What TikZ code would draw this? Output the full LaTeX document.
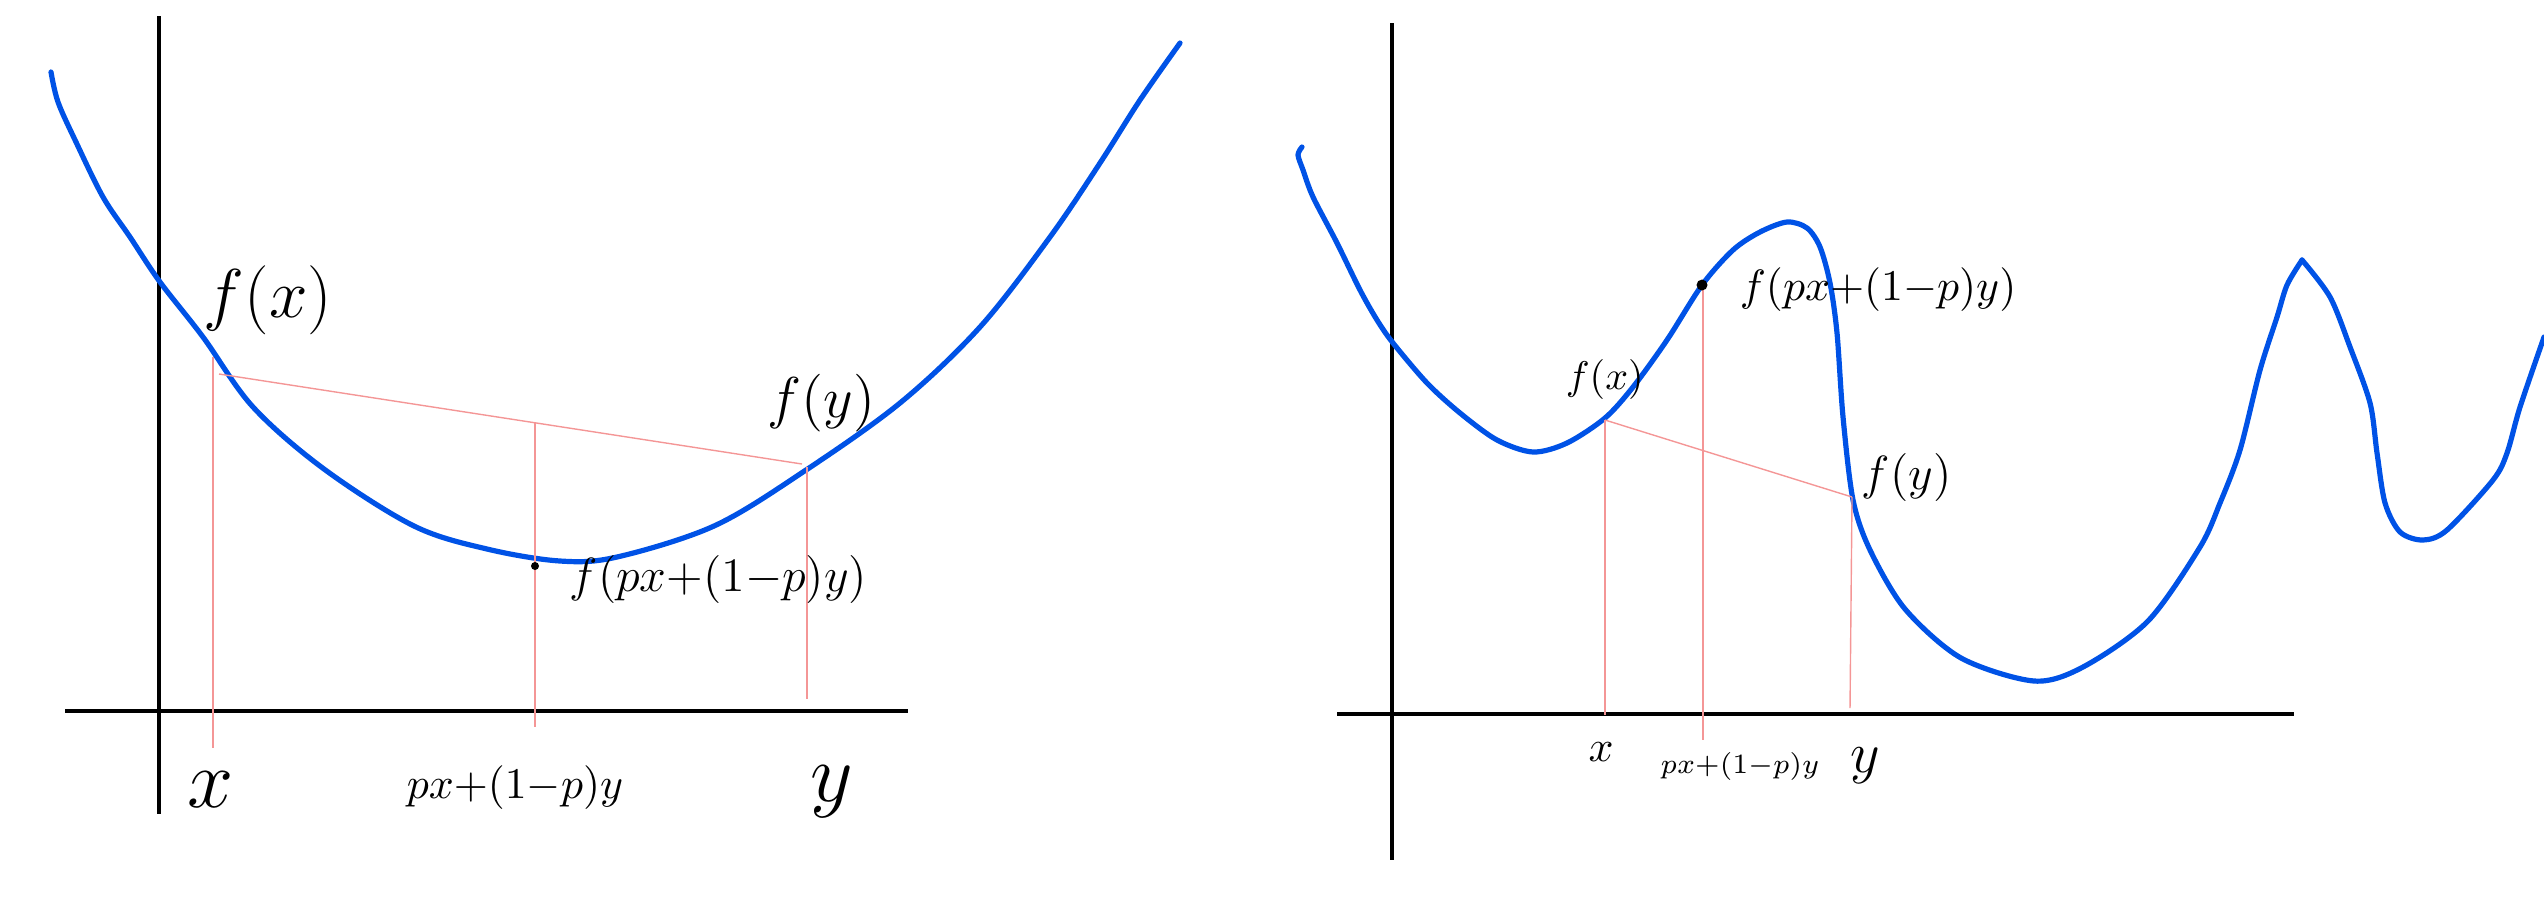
\documentclass[tikz,border=0pt]{standalone}
\usepackage{amsmath}
\usepackage{amssymb}
\usepackage{tikz}

\definecolor{curveblue}{RGB}{0,82,230}
\definecolor{chordred}{RGB}{244,150,150}

\begin{document}
\begin{tikzpicture}[x=0.25pt,y=0.25pt,yscale=-1,xscale=1,
  axis/.style={line width=1pt,black},
  curve/.style={line width=1.3pt,curveblue,line cap=round,line join=round},
  chord/.style={line width=0.35pt,chordred}]
%set diagram from 0 to 2544 wide and 902 high
\useasboundingbox (0,0) rectangle (2544,902);

%Straight Lines [id:left axes]
\draw[axis] (159,16) -- (159,814) ;
\draw[axis] (65,711) -- (908,711) ;
%Straight Lines [id:right axes]
\draw[axis] (1392,23) -- (1392,860) ;
\draw[axis] (1337,714) -- (2294,714) ;

%Curve Lines [id:left convex curve]
\draw[curve] plot[smooth,tension=0.55] coordinates {(51,72) (58,102) (76,142) (103,197) (130,237) (160,282) (203,337) (253,407) (324,469) (414,526) (487,549) (560,561) (617,557) (714,526) (803,472) (900,403) (980,327) (1050,237) (1100,163) (1140,100) (1180,43)} ;

%Curve Lines [id:right wavy curve]
\draw[curve] plot[smooth,tension=0.5] coordinates {(1302,147) (1298,155) (1303,170) (1313,197) (1337,243) (1360,290) (1377,320) (1393,343) (1427,383) (1460,413) (1497,440) (1533,452) (1567,443) (1605,418) (1633,387) (1667,340) (1702,285) (1733,250) (1760,232) (1787,222) (1807,228) (1820,247) (1830,283) (1837,333) (1843,417) (1853,500) (1870,550) (1905,609) (1961,658) (2034,681) (2083,667) (2148,621) (2200,547) (2220,503) (2240,450) (2260,370) (2277,317) (2287,285) (2302,260)} ;
\draw[curve] plot[smooth,tension=0.5] coordinates {(2302,260) (2330,297) (2350,347) (2370,403) (2377,453) (2385,503) (2400,532) (2423,540) (2447,530) (2493,480) (2507,453) (2520,407) (2544,337)} ;

%Points on the left curve
\coordinate (lfx) at (219,374) ;
\coordinate (lfy) at (802,464) ;
\coordinate (lxtop) at (213,357) ;
\coordinate (lxbot) at (213,748) ;
\coordinate (lmtop) at (535,423) ;
\coordinate (lmbot) at (535,727) ;
\coordinate (lytop) at (807,467) ;
\coordinate (lybot) at (807,699) ;
%Points on the right curve
\coordinate (rfx) at (1605,420) ;
\coordinate (rfy) at (1852,497) ;
\coordinate (rmtop) at (1703,285) ;
\coordinate (rmbot) at (1703,740) ;
\coordinate (rxbot) at (1605,715) ;
\coordinate (rybot) at (1850,708) ;

%Straight Lines [id:chords]
\draw[chord] (lfx) -- (lfy) ;
\draw[chord] (lxtop) -- (lxbot) ;
\draw[chord] (lmtop) -- (lmbot) ;
\draw[chord] (lytop) -- (lybot) ;
\draw[chord] (rfx) -- (rfy) ;
\draw[chord] (rfx) -- (rxbot) ;
\draw[chord] (rmtop) -- (rmbot) ;
\draw[chord] (rfy) -- (rybot) ;

%Shape: Circle [id:dots]
\fill (535,566) circle (4) ;
\fill (1702,285) circle (5.5) ;

% Text Node
\draw (200,262) node (lfxlabel) [anchor=north west][inner sep=0.75pt] {\fontsize{18}{20}\selectfont $f(x)$};
% Text Node
\draw (764,370) node (lfylabel) [anchor=north west][inner sep=0.75pt] {\fontsize{14}{16}\selectfont $f(y)$};
% Text Node
\draw (566,552) node (lfmlabel) [anchor=north west][inner sep=0.75pt] {\fontsize{11.5}{14}\selectfont $f(px{+}(1{-}p)y)$};
% Text Node
\draw (211,790) node (lxlabel) [inner sep=0.75pt] {\fontsize{20}{22}\selectfont $x$};
% Text Node
\draw (515,788) node (lmlabel) [inner sep=0.75pt] {\fontsize{11}{13}\selectfont $px{+}(1{-}p)y$};
% Text Node
\draw (832,792) node (lylabel) [inner sep=0.75pt] {\fontsize{20}{22}\selectfont $y$};
% Text Node
\draw (1562,356) node (rfxlabel) [anchor=north west][inner sep=0.75pt] {\fontsize{10}{12}\selectfont $f(x)$};
% Text Node
\draw (1736,264) node (rfmlabel) [anchor=north west][inner sep=0.75pt] {\fontsize{11}{13}\selectfont $f(px{+}(1{-}p)y)$};
% Text Node
\draw (1858,450) node (rfylabel) [anchor=north west][inner sep=0.75pt] {\fontsize{13}{15}\selectfont $f(y)$};
% Text Node
\draw (1601,752) node (rxlabel) [inner sep=0.75pt] {\fontsize{11}{13}\selectfont $x$};
% Text Node
\draw (1740,766) node (rmlabel) [inner sep=0.75pt] {\fontsize{7}{9}\selectfont $px{+}(1{-}p)y$};
% Text Node
\draw (1865,766) node (rylabel) [inner sep=0.75pt] {\fontsize{14}{16}\selectfont $y$};

\end{tikzpicture}
\end{document}
